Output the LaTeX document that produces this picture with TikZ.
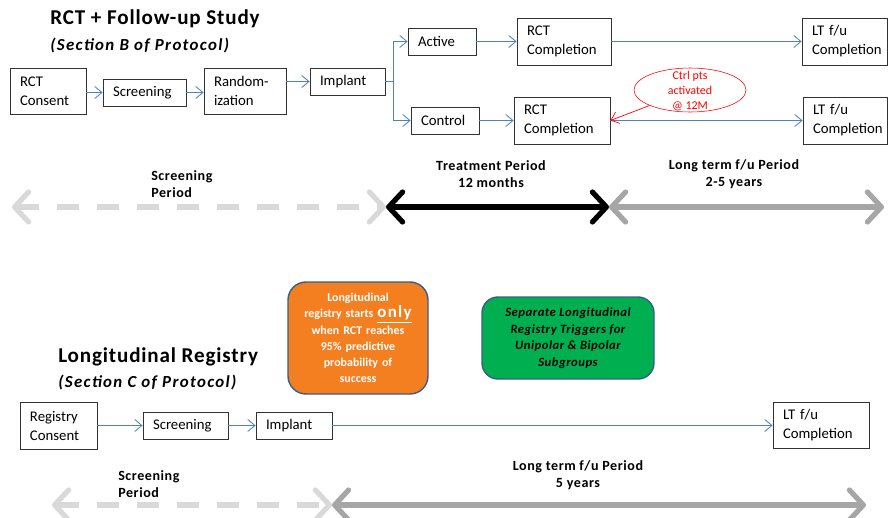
\documentclass[tikz,border=0pt]{standalone}
\usepackage{fontspec}
\setmainfont{Carlito}
\usetikzlibrary{arrows.meta,shapes.geometric}
\definecolor{linkblue}{RGB}{79,129,189}
\definecolor{lightgr}{RGB}{217,217,217}
\definecolor{midgr}{RGB}{166,166,166}
\definecolor{orangebox}{RGB}{244,127,32}
\definecolor{greenbox}{RGB}{0,176,80}
\definecolor{edgeblue}{RGB}{56,93,138}

\begin{document}
\begin{tikzpicture}[x=0.25mm, y=-0.25mm,
  box/.style={draw=black!80, line width=0.6pt, align=left, inner xsep=2.5mm, inner ysep=0pt, font=\fontsize{10.5}{13.5}\selectfont},
  >={Straight Barb[length=1.8mm,width=3mm]},
  link/.style={draw=linkblue, line width=0.6pt, ->},
  period/.style={line width=1.3mm, {Straight Barb[round,length=3.5mm,width=7.5mm]}-{Straight Barb[round,length=3.5mm,width=7.5mm]}},
  plabel/.style={font=\fontsize{10}{12.5}\selectfont\bfseries\addfontfeature{LetterSpace=4}, align=center},
  title/.style={anchor=west, inner xsep=0pt, font=\fontsize{15}{18}\selectfont\bfseries\addfontfeature{LetterSpace=4}},
  subtitle/.style={anchor=west, inner xsep=0pt, font=\fontsize{12}{14}\selectfont\bfseries\itshape\addfontfeature{LetterSpace=8}}]
  \useasboundingbox (0,0) rectangle (888,518);

  \node[title] (t1) at (50,19) {RCT + Follow-up Study};
  \node[subtitle] (t2) at (50,46) {(Section B of Protocol)};

  \node[box, text width=14mm, minimum height=11.5mm] (rc) at (48,91) {RCT\\Consent};
  \node[box, text width=15.75mm, minimum height=6.75mm] (scr) at (144.5,92.5) {Screening};
  \node[box, text width=15.5mm, minimum height=11.5mm] (rnd) at (245,91) {Random-\\ization};
  \node[box, text width=13.75mm, minimum height=6.75mm] (imp) at (347.5,81.5) {Implant};
  \coordinate (br) at (393,81.5);
  \node[box, text width=12mm, minimum height=6.75mm] (act) at (442,41.5) {Active};
  \node[box, text width=12mm, minimum height=6.75mm] (ctl) at (445,120.5) {Control};
  \node[box, text width=18.5mm, minimum height=11.75mm] (rca) at (564,41.5) {RCT\\Completion};
  \node[box, text width=19mm, minimum height=11.75mm] (rcb) at (562,120.5) {RCT\\Completion};
  \node[box, text width=16.25mm, minimum height=11.75mm] (lta) at (844.5,41.5) {LT f/u\\Completion};
  \node[box, text width=16mm, minimum height=11.75mm] (ltb) at (845,120.5) {LT f/u\\Completion};

  \node[draw=red, ellipse, minimum width=28mm, minimum height=11mm, inner sep=0pt] (ell) at (690,90) {};
  \node[red, font=\fontsize{8.5}{10.5}\selectfont, align=center] (note) at (690,91) {Ctrl pts\\activated\\@ 12M};

  \draw[link] (rc.east |- scr) -- (scr);
  \draw[link] (scr.east) -- (scr -| rnd.west);
  \draw[link] (rnd.east |- imp) -- (imp);
  \draw[draw=linkblue, line width=0.6pt] (imp) -- (br);
  \draw[link] (br) |- (act);
  \draw[link] (br) |- (ctl);
  \draw[link] (act) -- (rca);
  \draw[link] (ctl) -- (rcb);
  \draw[link] (rca) -- (lta);
  \draw[link] (rcb) -- (ltb);
  \draw[red, line width=0.5pt, ->] (ell) -- (rcb.east);

  \coordinate (p1) at (12,207);
  \coordinate (p2) at (386,207);
  \coordinate (p3) at (609,207);
  \coordinate (p4) at (884,207);
  \draw[period, lightgr, dash pattern=on 5.5mm off 4.5mm] (p1) -- (p2);
  \draw[period, black] (p2) -- (p3);
  \draw[period, midgr] (p3) -- (p4);
  \node[plabel, align=left, anchor=west, inner xsep=0pt] (scrp) at (151,184) {Screening\\Period};
  \node[plabel] (trp) at (491,174) {Treatment Period\\12 months};
  \node[plabel] (ltp) at (734,174) {Long term f/u Period\\2-5 years};

  \node[draw=edgeblue, line width=1pt, fill=orangebox, rounded corners=4.5mm, minimum width=35mm, minimum height=28mm, text width=31mm, align=center, text=white, font=\fontsize{8.5}{11.5}\selectfont\bfseries] (cond) at (358,338) {Longitudinal\\registry starts {\fontsize{12}{11.5}\selectfont\addfontfeature{LetterSpace=8}\underline{only}}\\when RCT reaches\\95\% predictive\\probability of\\success};
  \node[draw=edgeblue, line width=1pt, fill=greenbox, rounded corners=4mm, minimum width=43mm, minimum height=20.5mm, align=center, font=\fontsize{9}{11.8}\selectfont\bfseries\itshape\addfontfeature{LetterSpace=4}] (trig) at (568,338) {Separate Longitudinal\\Registry Triggers for\\Unipolar \& Bipolar\\Subgroups};

  \node[title] (t3) at (58,357) {Longitudinal Registry};
  \node[subtitle] (t4) at (58,383) {(Section C of Protocol)};

  \node[box, text width=14.25mm, minimum height=11.75mm] (rgc) at (58.5,425.5) {Registry\\Consent};
  \node[box, text width=16.25mm, minimum height=6.75mm] (scr2) at (185.5,425.5) {Screening};
  \node[box, text width=14mm, minimum height=6.75mm] (imp2) at (294,425.5) {Implant};
  \node[box, text width=19mm, minimum height=11.5mm] (lt2) at (821,425.5) {LT f/u\\Completion};
  \draw[link] (rgc) -- (scr2);
  \draw[link] (scr2) -- (imp2);
  \draw[link] (imp2) -- (lt2);

  \coordinate (q1) at (52,505);
  \coordinate (q2) at (332,505);
  \coordinate (q3) at (866,505);
  \draw[period, lightgr, dash pattern=on 5.5mm off 4.5mm] (q1) -- (q2);
  \draw[period, midgr] (q2) -- (q3);
  \node[plabel, align=left, anchor=west, inner xsep=0pt] (scrp2) at (118,484) {Screening\\Period};
  \node[plabel] (ltp2) at (578,475) {Long term f/u Period\\5 years};
\end{tikzpicture}
\end{document}
